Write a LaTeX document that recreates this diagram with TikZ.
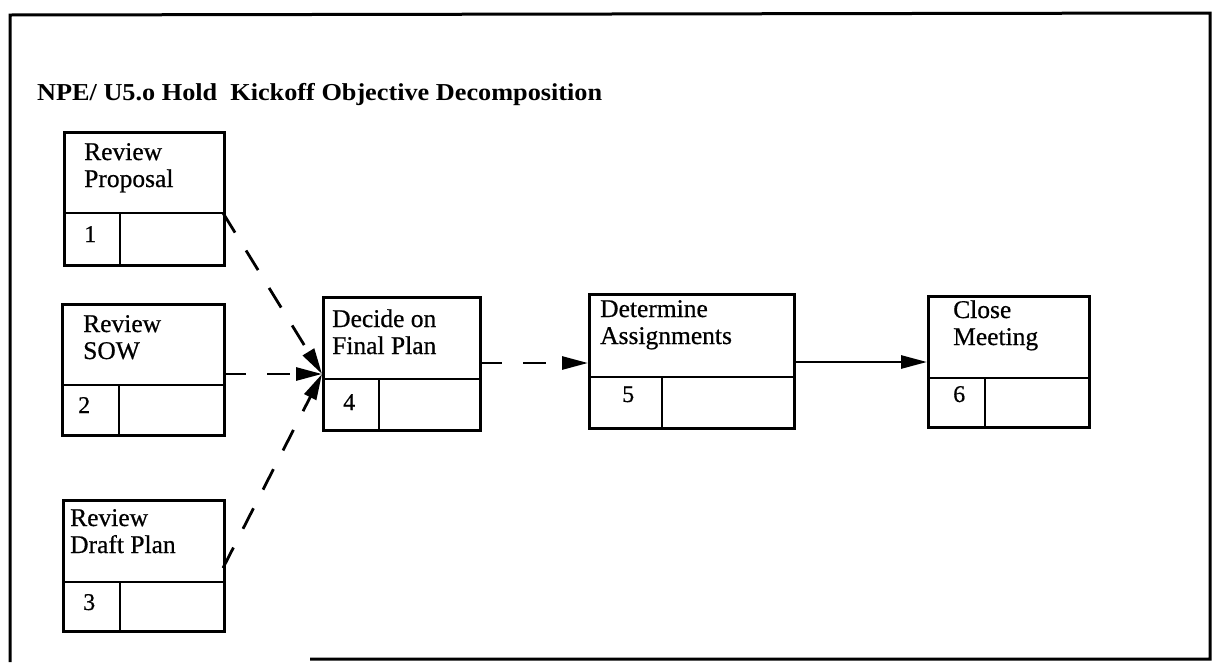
\documentclass[tikz,border=0pt]{standalone}
\usepackage{fontspec}
\setmainfont{Liberation Serif}[FakeBold=0.6]
\newfontfamily\titlefont{Liberation Serif}[FakeStretch=1.08]
\usetikzlibrary{arrows.meta}
\newcommand{\twolines}[2]{\vtop{\baselineskip=27pt\hbox{#1}\hbox{#2}}}
\tikzset{
  frame/.style={line width=3pt},
  taskbox/.style={draw, line width=2.8pt, inner sep=0pt, anchor=north west},
  cell/.style={line width=2.8pt},
  label/.style={anchor=base west, inner sep=0pt, font=\fontsize{25.5}{27}\selectfont},
  num/.style={anchor=base west, inner sep=0pt, font=\fontsize{24}{26}\selectfont},
  flow/.style={line width=2.8pt, -{Triangle[length=26pt,width=13pt]}},
  dflow/.style={flow, dash pattern=on 23pt off 21pt}
}
\begin{document}
\begin{tikzpicture}[x=1pt,y=-1pt]
\useasboundingbox (0,0) rectangle (1216,662);

% outer frame (bottom edge only partly printed)
\draw[frame] (310,659) -- (1210,659) -- (1210,13) -- (10,15) -- (10,662);

% heading
\node[anchor=base west, inner sep=0pt] (title) at (37,100)
  {\titlefont\bfseries\fontsize{24.3}{26}\selectfont NPE/ U5.o Hold\ \ Kickoff Objective Decomposition};

% task boxes: outline, divider, number cell
\node[taskbox, minimum width=160pt, minimum height=133pt] (b1) at (63,131) {};
\draw[cell] (63,213) -- (223,213) coordinate (b1r);
\draw[cell] (120,213) -- (120,264);

\node[taskbox, minimum width=162pt, minimum height=131pt] (b2) at (61,303) {};
\draw[cell] (61,385) -- (223,385);
\draw[cell] (119,385) -- (119,434);
\coordinate (b2r) at (223,374);

\node[taskbox, minimum width=161pt, minimum height=131pt] (b3) at (62,499) {};
\draw[cell] (62,582) -- (223,582);
\draw[cell] (120,582) -- (120,630);
\coordinate (b3r) at (223,568);

\node[taskbox, minimum width=157pt, minimum height=133pt] (b4) at (322,296) {};
\draw[cell] (322,379) -- (479,379);
\draw[cell] (379,379) -- (379,429);
\coordinate (b4l) at (322,374);
\coordinate (b4r) at (479,363);

\node[taskbox, minimum width=205pt, minimum height=134pt] (b5) at (588,293) {};
\draw[cell] (588,377) -- (793,377);
\draw[cell] (662,377) -- (662,427);
\coordinate (b5l) at (588,363);
\coordinate (b5r) at (793,362);

\node[taskbox, minimum width=161pt, minimum height=131pt] (b6) at (927,295) {};
\draw[cell] (927,378) -- (1088,378);
\draw[cell] (985,378) -- (985,426);
\coordinate (b6l) at (927,362);

% box texts
\node[label] (t1) at (84,160) {\twolines{Review}{Proposal}};
\node[num]   (n1) at (84,242) {1};
\node[label] (t2) at (83,332) {\twolines{Review}{SOW}};
\node[num]   (n2) at (78,413) {2};
\node[label] (t3) at (70,526) {\twolines{Review}{Draft Plan}};
\node[num]   (n3) at (83,610) {3};
\node[label] (t4) at (332,327) {\twolines{Decide on}{Final Plan}};
\node[num]   (n4) at (343,410) {4};
\node[label] (t5) at (600,317) {\twolines{Determine}{Assignments}};
\node[num]   (n5) at (622,402) {5};
\node[label] (t6) at (953,318) {\twolines{Close}{Meeting}};
\node[num]   (n6) at (953,402) {6};

% precedence connectors
\draw[dflow] (b1r) -- (b4l);
\draw[dflow] (b2r) -- (b4l);
\draw[dflow] (b3r) -- (b4l);
\draw[dflow] (b4r) -- (b5l);
\draw[flow]  (b5r) -- (b6l);
\end{tikzpicture}
\end{document}
